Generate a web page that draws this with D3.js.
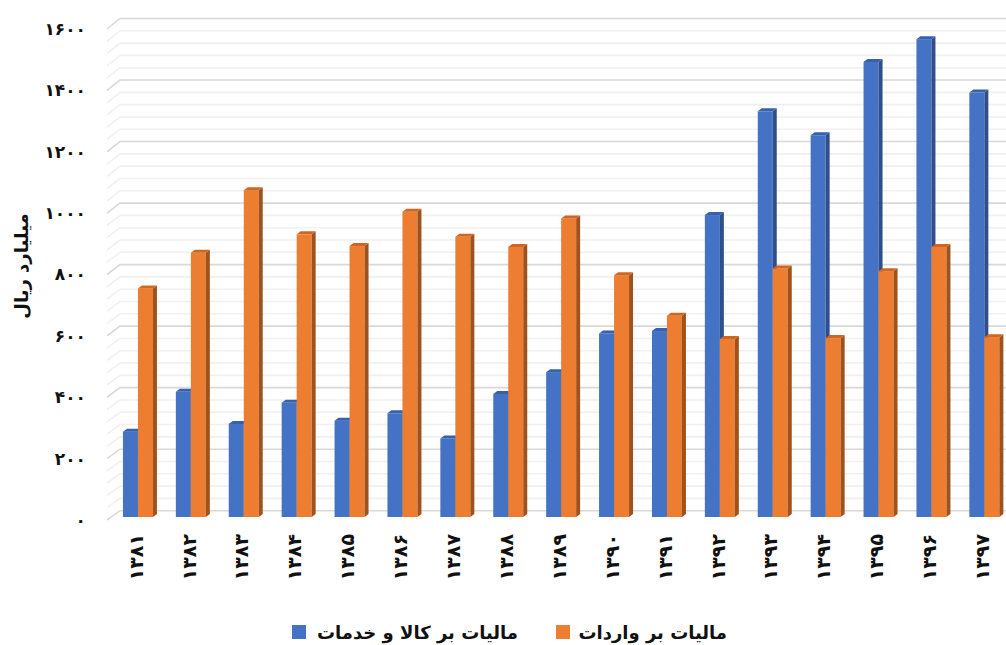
<!DOCTYPE html>
<html>
<head>
<meta charset="utf-8">
<script src="https://cdn.jsdelivr.net/npm/d3@7"></script>
<style>
  body { margin: 0; background: white; }
  text { font-family: "DejaVu Sans", sans-serif; font-weight: bold; }
</style>
</head>
<body>
<div class="chart"></div>
<script>
var years = ['۱۳۸۱', '۱۳۸۲', '۱۳۸۳', '۱۳۸۴', '۱۳۸۵', '۱۳۸۶', '۱۳۸۷', '۱۳۸۸', '۱۳۸۹',
             '۱۳۹۰', '۱۳۹۱', '۱۳۹۲', '۱۳۹۳', '۱۳۹۴', '۱۳۹۵', '۱۳۹۶', '۱۳۹۷'];
var goodsTax = [278, 408, 303, 372, 314, 338, 256, 401, 472, 598, 606, 984, 1322, 1244, 1483, 1557, 1383];
var importTax = [745, 861, 1065, 921, 883, 995, 913, 880, 973, 788, 656, 580, 810, 583, 801, 880, 586];
var seriesNames = ['مالیات بر کالا و خدمات', 'مالیات بر واردات'];
var yTicks = [0, 200, 400, 600, 800, 1000, 1200, 1400, 1600];

var width = 1006,
    height = 645,
    depthX = 4,
    depthY = 3;

var colors = [
  {front: '#4472c4', top: '#3561ad', side: '#2f4f8a'},
  {front: '#ed7d31', top: '#d0661f', side: '#a0521d'}
];

var faDigits = function(v) {
  return String(v).replace(/\d/g, function(d) { return '۰۱۲۳۴۵۶۷۸۹'[d]; });
};

var svg = d3.select('.chart').append('svg')
    .attr('width', width)
    .attr('height', height);

// scales: bars, back wall and front edge
var y = d3.scaleLinear().domain([0, 1600]).range([517, 26]);
var yBack = d3.scaleLinear().domain([0, 1600]).range([510.7, 18.5]);
var yFront = d3.scaleLinear().domain([0, 1600]).range([520, 29]);

var x = d3.scaleBand().domain(years)
    .range([111.5, 1010.8])
    .paddingInner(0.433)
    .paddingOuter(0.2165);
var xSeries = d3.scaleBand().domain([0, 1]).range([0, x.bandwidth()]);

// gridlines on the back wall plus the side wall diagonals
var gridVals = d3.range(0, 1601, 40);
var grid = svg.append('g');
grid.selectAll('path').data(gridVals)
  .enter().append('path')
    .attr('d', function(d) {
      return 'M107,' + yFront(d) + 'L120,' + yBack(d) + 'L' + width + ',' + yBack(d);
    })
    .attr('fill', 'none')
    .attr('stroke', function(d) { return d % 200 === 0 ? '#d9d9d9' : '#f0f0f0'; })
    .attr('stroke-width', 1.6);

// y axis labels
svg.append('g').selectAll('text').data(yTicks)
  .enter().append('text')
    .attr('x', 86)
    .attr('y', function(d) { return yFront(d); })
    .attr('dy', '0.35em')
    .attr('text-anchor', 'end')
    .attr('font-size', 17)
    .attr('fill', '#111')
    .text(faDigits);

svg.append('text')
    .attr('transform', 'translate(22,266) rotate(-90)')
    .attr('text-anchor', 'middle')
    .attr('dy', '0.35em')
    .attr('font-size', 18)
    .attr('fill', '#111')
    .text('میلیارد ریال');

// 3d-ish columns
var bars = [];
years.forEach(function(yr, i) {
  bars.push({year: yr, s: 0, v: goodsTax[i]});
  bars.push({year: yr, s: 1, v: importTax[i]});
});

var bar = svg.append('g').selectAll('g').data(bars)
  .enter().append('g');

bar.append('rect')
    .attr('x', function(d) { return x(d.year) + xSeries(d.s); })
    .attr('y', function(d) { return y(d.v); })
    .attr('width', xSeries.bandwidth())
    .attr('height', function(d) { return y(0) - y(d.v); })
    .attr('fill', function(d) { return colors[d.s].front; });

bar.append('path')
    .attr('d', function(d) {
      var x1 = x(d.year) + xSeries(d.s) + xSeries.bandwidth(),
          t = y(d.v), b = y(0);
      return 'M' + x1 + ',' + t + 'L' + (x1 + depthX) + ',' + (t - depthY) +
             'L' + (x1 + depthX) + ',' + (b - depthY) + 'L' + x1 + ',' + b + 'Z';
    })
    .attr('fill', function(d) { return colors[d.s].side; });

bar.append('path')
    .attr('d', function(d) {
      var x0 = x(d.year) + xSeries(d.s), x1 = x0 + xSeries.bandwidth(),
          t = y(d.v);
      return 'M' + x0 + ',' + t + 'L' + (x0 + depthX) + ',' + (t - depthY) +
             'L' + (x1 + depthX) + ',' + (t - depthY) + 'L' + x1 + ',' + t + 'Z';
    })
    .attr('fill', function(d) { return colors[d.s].top; });

// category labels, rotated
svg.append('g').selectAll('text').data(years)
  .enter().append('text')
    .attr('transform', function(d) {
      return 'translate(' + (x(d) + x.bandwidth() / 2 - 2) + ',534) rotate(-90)';
    })
    .attr('text-anchor', 'end')
    .attr('dy', '0.35em')
    .attr('font-size', 19)
    .attr('fill', '#111')
    .text(function(d) { return d; });

// legend
var legend = [
  {name: seriesNames[0], box: 292, tx: 518, c: colors[0].front},
  {name: seriesNames[1], box: 556, tx: 727, c: colors[1].front}
];
var lg = svg.append('g').selectAll('g').data(legend).enter().append('g');
lg.append('rect')
    .attr('x', function(d) { return d.box; })
    .attr('y', 625)
    .attr('width', 14)
    .attr('height', 14)
    .attr('fill', function(d) { return d.c; });
lg.append('text')
    .attr('x', function(d) { return d.tx; })
    .attr('y', 633)
    .attr('dy', '0.35em')
    .attr('text-anchor', 'start')
    .attr('direction', 'rtl')
    .attr('font-size', 18)
    .attr('fill', '#111')
    .text(function(d) { return d.name; });
</script>
</body>
</html>
